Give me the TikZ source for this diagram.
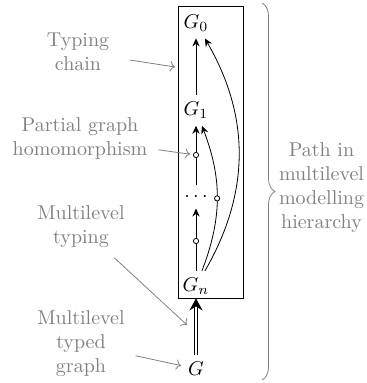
\documentclass[tikz,border=0pt]{standalone}
\usetikzlibrary{arrows.meta,decorations.pathreplacing}

\tikzset{
  hom/.style={draw, circle, inner sep=0pt, minimum size=2.6pt, fill=white},
  note/.style={gray, align=center},
  pointer/.style={gray, ->, shorten <=2pt},
  typing/.style={-{Stealth[length=4pt,width=3.6pt,inset=1.3pt]}},
}

\begin{document}
\begin{tikzpicture}[x=1pt,y=1pt]
  \useasboundingbox (0,0) rectangle (183.5,-191.5);

  % the path of graphs
  \node[draw, minimum width=32.5pt, minimum height=146pt] (box) at (105.25,-76) {};
  \node (G0) at (98,-11.5) {$G_0$};
  \node (G1) at (98,-55.2) {$G_1$};
  \node (Gn) at (98,-143.2) {$G_n$};
  \node (G) at (98,-184.4) {$G$};

  \node[hom] (c1) at (98,-77.5) {};
  \node (dots) at (98,-98.5) {$\cdots$};
  \node[hom] (c2) at (98,-120.5) {};

  \draw[typing] (G1) -- (G0);
  \draw[typing] (c1) -- (G1);
  \draw (dots) -- (c1);
  \draw[typing] (c2) -- (dots);
  \draw (Gn) -- (c2);
  \draw[typing] (Gn) to[bend right=21] node[hom, pos=0.5] (c3) {} (G1);
  \draw[typing] (Gn) to[bend right=30] (G0);

  \draw[double, double distance=1.4pt, -{Stealth[length=6pt,width=6.5pt,inset=2pt]}] (G) -- (G |- box.south);

  % notes on the left
  \coordinate (chainpt) at (87.5,-33.5);
  \coordinate (typpt) at (93.5,-162.5);

  \node[note] (tc) at (39,-26) {Typing\\chain};
  \draw[pointer, shorten <=7pt] (tc) -- (chainpt);

  \node[note] (ph) at (40,-69.5) {Partial graph\\homomorphism};
  \draw[pointer, shorten >=1.5pt] (ph) -- (c1);

  \node[note] (mt) at (40.5,-113.5) {Multilevel\\typing};
  \draw[pointer] (mt) -- (typpt);

  \node[note] (mg) at (40.5,-172) {Multilevel\\typed\\graph};
  \draw[pointer] (mg) -- (G);

  % brace on the right
  \coordinate (btop) at (131,-1.5);
  \coordinate (bbot) at (131,-190);
  \draw[gray, decorate, decoration={brace, amplitude=6.5pt}] (btop) -- (bbot);
  \node[note] (ph2) at (160.75,-93.6) {Path in\\multilevel\\modelling\\hierarchy};
\end{tikzpicture}
\end{document}
